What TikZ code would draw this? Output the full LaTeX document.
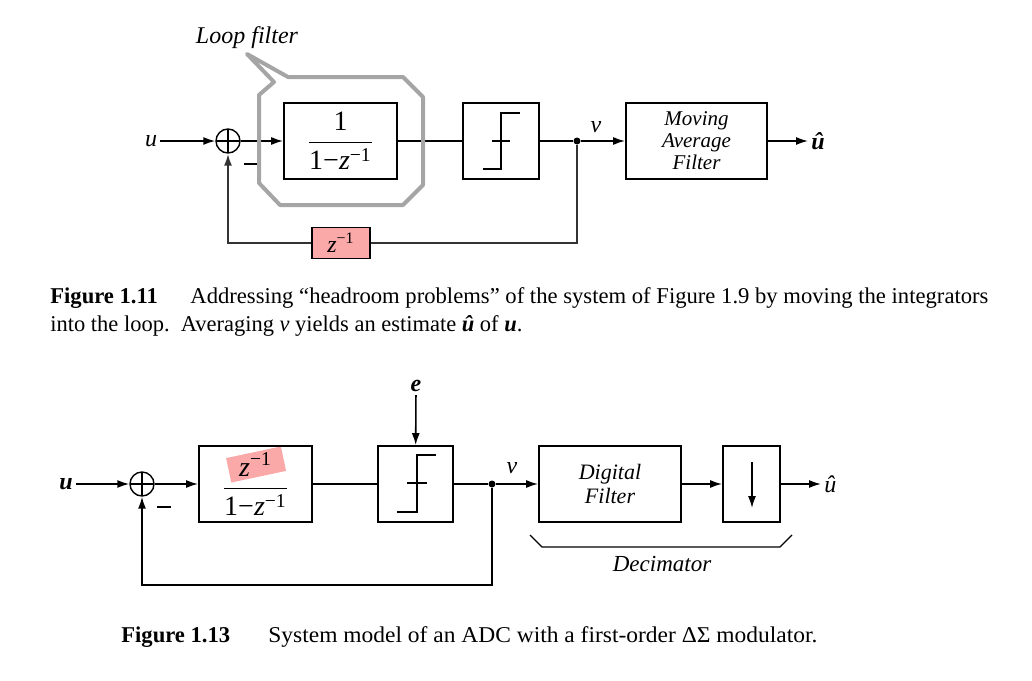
\documentclass[tikz,border=0pt]{standalone}
\usepackage{amsmath}
\usepackage{graphicx}
\usepackage{fontspec}
\setmainfont{Liberation Serif}
\usetikzlibrary{arrows.meta}
\definecolor{pinkhl}{RGB}{250,168,168}
\definecolor{loopgray}{RGB}{165,165,165}
\newcommand{\zinv}{\textit{z}^{\text{−1}}}

\begin{document}
\begin{tikzpicture}[x=0.5pt,y=-0.5pt,
  block/.style={draw,line width=0.9pt,inner sep=0pt,minimum height=38pt},
  sumnode/.style={circle,draw,line width=0.7pt,minimum size=12pt,inner sep=0pt,
    path picture={\draw[line width=0.7pt] (path picture bounding box.north) -- (path picture bounding box.south)
      (path picture bounding box.west) -- (path picture bounding box.east);}},
  junction/.style={circle,fill,inner sep=0pt,minimum size=3.5pt},
  sig/.style={line width=0.8pt},
  arr/.style={sig,-{Latex[length=6pt,width=4pt]}},
  lbl/.style={inner sep=1.5pt,font=\fontsize{12}{14}\selectfont\itshape},
  blocktext/.style={align=center,font=\fontsize{10.5}{11}\selectfont\itshape},
  txt/.style={inner sep=0pt,anchor=base west,font=\fontsize{11.3}{13}\selectfont}]
\useasboundingbox (0,0) rectangle (1032,680);

% Figure 1.11
\node[lbl] (u1) at (151,141) {u};
\node[sumnode] (s1) at (228,141) {};
\node[block,minimum width=56.5pt] (h1) at (340.5,141) {\fontsize{14}{16}\selectfont$\dfrac{\text{1}}{\text{1−}\zinv}$};
\node[block,minimum width=38pt] (q1) at (501,141) {};
\draw[line width=0.6pt] (483,169) -- (501,169) -- (501,113) -- (520,113) (492,141) -- (510,141);
\node[junction] (d1) at (577,141) {};
\node[block,minimum width=70.5pt,blocktext] (maf) at (696.5,141) {Moving\\Average\\Filter};
\node[lbl,font=\fontsize{12}{14}\selectfont\bfseries\itshape,anchor=west] (uh1) at (808,141) {û};
\node[block,minimum width=29pt,minimum height=15.5pt,fill=pinkhl,line width=0.6pt] (z1) at (341,243) {\fontsize{12}{14}\selectfont$\zinv$};
\node[inner sep=0pt] (m1) at (251,164) {\rule{7pt}{0.7pt}};
\node[lbl] (v1) at (596,127) {v};
\node[lbl] (lf) at (247,38) {Loop filter};
\coordinate (fb1) at (228,243);

\draw[arr] (u1) -- (s1);
\draw[arr] (s1) -- (h1);
\draw[sig] (h1) -- (q1);
\draw[sig] (q1) -- (d1);
\draw[arr] (d1) -- (maf);
\draw[arr] (maf) -- (uh1);
\draw[sig,line width=1pt,black!80] (d1) |- (z1);
\draw[arr,line width=1pt,black!80] (z1) -- (fb1) -- (s1);
\draw[loopgray,line width=2pt,line join=round] (288,77) -- (403,77) -- (423,97) -- (423,185) -- (403,205)
  -- (280,205) -- (259,183) -- (259,95) -- (274,82) -- (247,54) -- cycle;

% Figure 1.13
\node[lbl,font=\fontsize{12}{14}\selectfont\bfseries\itshape] (u2) at (66,484) {u};
\node[sumnode] (s2) at (142,484) {};
\fill[pinkhl,rotate around={12:(256,464)}] (228,452) rectangle (284,477);
\node[block,minimum width=56.5pt] (h2) at (255.5,484) {\fontsize{14}{16}\selectfont$\dfrac{\zinv}{\text{1−}\zinv}$};
\node[block,minimum width=37.5pt] (q2) at (415.5,484) {};
\draw[line width=0.6pt] (397,512) -- (417,512) -- (417,455) -- (436,455) (407,483) -- (427,483);
\node[lbl,font=\fontsize{12}{14}\selectfont\bfseries\itshape] (e2) at (416,386) {e};
\node[junction] (d2) at (492,484) {};
\node[lbl] (v2) at (512,468) {v};
\node[block,minimum width=71pt,blocktext,font=\fontsize{11}{12}\selectfont\itshape] (dig) at (610,484) {Digital\\Filter};
\node[block,minimum width=28.5pt] (dn) at (751.5,484) {};
\draw[arr] (752,462) -- (752,508);
\node[lbl,anchor=west] (uh2) at (821,484) {û};
\node[inner sep=0pt] (m2) at (164,507) {\rule{7pt}{0.7pt}};
\node[lbl,font=\fontsize{11.5}{13}\selectfont\itshape] (dec) at (662,564) {Decimator};
\coordinate (fb2) at (142,585);

\draw[arr] (u2) -- (s2);
\draw[arr] (s2) -- (h2);
\draw[sig] (h2) -- (q2);
\draw[arr] (e2) -- (q2);
\draw[sig] (q2) -- (d2);
\draw[arr] (d2) -- (dig);
\draw[arr] (dig) -- (dn);
\draw[arr] (dn) -- (uh2);
\draw[arr] (d2) |- (fb2) -- (s2);
\draw[line width=0.6pt] (530,535) -- (542,547) -- (780,547) -- (792,535);

% captions
\node[txt,font=\fontsize{11.3}{13}\selectfont\bfseries] (f11) at (50,303) {Figure 1.11};
\node[txt] (c11a) at (190,303) {\resizebox{399pt}{\height}{Addressing “headroom problems” of the system of Figure 1.9 by moving the integrators}};
\node[txt] (c11b) at (50,331) {\resizebox{236pt}{\height}{into the loop.\ \ Averaging \textit{v} yields an estimate \textbf{\textit{û}} of \textbf{\textit{u}}.}};
\node[txt,font=\fontsize{11.3}{13}\selectfont\bfseries] (f13) at (121,642) {Figure 1.13};
\node[txt] (c13) at (268,642) {\resizebox{274.5pt}{\height}{System model of an ADC with a first-order ΔΣ modulator.}};
\end{tikzpicture}
\end{document}
